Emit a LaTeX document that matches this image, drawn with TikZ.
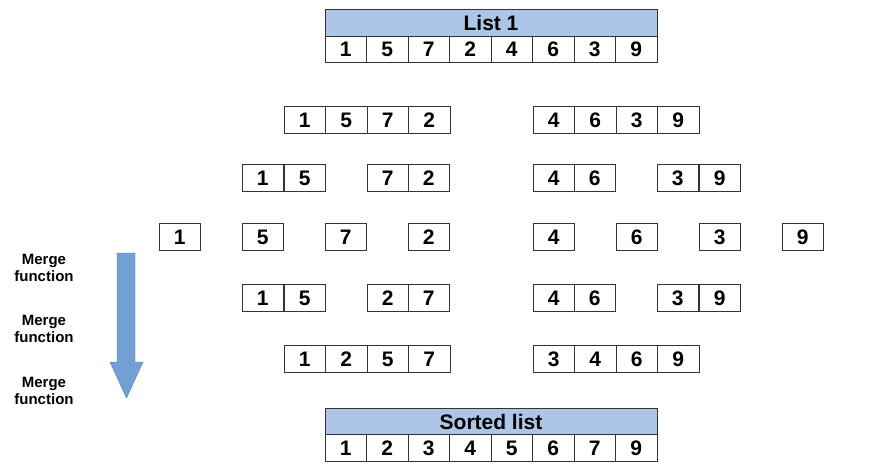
\documentclass[tikz,border=0pt]{standalone}
\usepackage{fontspec}
\setmainfont{Liberation Sans}
\usetikzlibrary{positioning}
\definecolor{headblue}{RGB}{173,197,231}
\definecolor{arrowblue}{RGB}{114,159,212}
\definecolor{arrowline}{RGB}{79,125,184}

\begin{document}
\begin{tikzpicture}[x=1pt,y=-1pt,
    cell/.style={draw=black!80,line width=0.8pt,minimum width=41.5pt,minimum height=26.5pt,inner sep=0pt,
      font=\fontsize{21}{21}\selectfont\bfseries},
    headbox/.style={cell,fill=headblue,minimum width=332pt},
    mergetext/.style={align=center,inner sep=0pt,font=\fontsize{15}{17}\selectfont\bfseries}]
\useasboundingbox (0,0) rectangle (875,464);

% unsorted list
\node[headbox] (list) at (491,23) {List 1};
\foreach \v [count=\i] in {1,5,7,2,4,6,3,9}
    \node[cell] (top\i) at (325+41.5*\i-20.75,49.5) {\v};

% splitting
\foreach \v [count=\i] in {1,5,7,2}
    \node[cell] (halfa\i) at (284+41.5*\i-20.75,120) {\v};
\foreach \v [count=\i] in {4,6,3,9}
    \node[cell] (halfb\i) at (533+41.5*\i-20.75,120) {\v};

\foreach \v/\x [count=\i] in {1/242,5/284,7/367,2/408,4/533,6/574,3/657,9/699}
    \node[cell] (quart\i) at (\x+20.75,178) {\v};

\foreach \v/\x [count=\i] in {1/159,5/242,7/325,2/408,4/533,6/616,3/699,9/782}
    \node[cell] (single\i) at (\x+20.75,237) {\v};

% merging
\foreach \v/\x [count=\i] in {1/242,5/284,2/367,7/408,4/533,6/574,3/657,9/699}
    \node[cell] (pair\i) at (\x+20.75,298) {\v};

\foreach \v [count=\i] in {1,2,5,7}
    \node[cell] (mergea\i) at (284+41.5*\i-20.75,359) {\v};
\foreach \v [count=\i] in {3,4,6,9}
    \node[cell] (mergeb\i) at (533+41.5*\i-20.75,359) {\v};

% sorted list
\node[headbox] (sorted) at (491,421.5) {Sorted list};
\foreach \v [count=\i] in {1,2,3,4,5,6,7,9}
    \node[cell] (bottom\i) at (325+41.5*\i-20.75,448) {\v};

% arrow and labels
\draw[arrowline,fill=arrowblue] (117,253) -- (135,253) -- (135,362) -- (143,362)
    -- (126.5,398) -- (110,362) -- (117,362) -- cycle;
\foreach \y [count=\i] in {268,329,391}
    \node[mergetext] (merge\i) at (44,\y) {Merge\\function};
\end{tikzpicture}
\end{document}
